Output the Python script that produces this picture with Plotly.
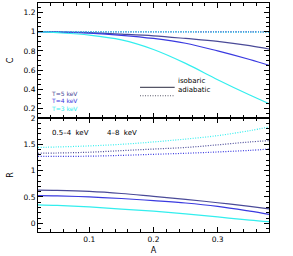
import plotly.graph_objects as go

# Data
A = [0.02, 0.05, 0.10, 0.15, 0.20, 0.25, 0.30, 0.35, 0.38]

C_iso_T5 = [1.0, 0.998, 0.99, 0.975, 0.957, 0.93, 0.90, 0.855, 0.82]
C_iso_T4 = [1.0, 0.997, 0.985, 0.963, 0.93, 0.88, 0.80, 0.71, 0.65]
C_iso_T3 = [1.0, 0.99, 0.965, 0.915, 0.815, 0.67, 0.50, 0.34, 0.25]
C_adi_T5 = [1.0, 1.0, 1.0, 1.0, 1.0, 1.0, 0.999, 0.999, 0.998]
C_adi_T4 = [1.0, 1.0, 1.0, 0.999, 0.999, 0.999, 0.998, 0.998, 0.997]
C_adi_T3 = [1.0, 1.0, 0.999, 0.999, 0.998, 0.998, 0.997, 0.997, 0.996]

R_iso_T5 = [0.63, 0.625, 0.605, 0.565, 0.51, 0.455, 0.39, 0.32, 0.275]
R_iso_T4 = [0.525, 0.52, 0.50, 0.47, 0.43, 0.385, 0.32, 0.23, 0.17]
R_iso_T3 = [0.35, 0.34, 0.31, 0.27, 0.23, 0.18, 0.12, 0.06, 0.03]
R_adi_T5 = [1.33, 1.335, 1.35, 1.38, 1.41, 1.44, 1.49, 1.545, 1.57]
R_adi_T4 = [1.27, 1.27, 1.275, 1.29, 1.31, 1.33, 1.355, 1.385, 1.41]
R_adi_T3 = [1.44, 1.45, 1.47, 1.50, 1.545, 1.60, 1.665, 1.76, 1.83]

temps = ["T=5 keV", "T=4 keV", "T=3 keV"]
colors = ["#4a4a98", "#3a3ae0", "#33eeee"]

fig = go.Figure()

C_iso = [C_iso_T5, C_iso_T4, C_iso_T3]
C_adi = [C_adi_T5, C_adi_T4, C_adi_T3]
R_iso = [R_iso_T5, R_iso_T4, R_iso_T3]
R_adi = [R_adi_T5, R_adi_T4, R_adi_T3]

DOT = "1px,1.5px"
for i in range(3):
    fig.add_trace(go.Scatter(x=A, y=C_adi[i], mode="lines", line=dict(color=colors[i], width=1.2, dash=DOT, shape="spline"),
                             xaxis="x2", yaxis="y2", showlegend=False))
    fig.add_trace(go.Scatter(x=A, y=C_iso[i], mode="lines", line=dict(color=colors[i], width=1.2, shape="spline"),
                             xaxis="x2", yaxis="y2", showlegend=False))
    fig.add_trace(go.Scatter(x=A, y=R_adi[i], mode="lines", line=dict(color=colors[i], width=1.2, dash=DOT, shape="spline"),
                             xaxis="x", yaxis="y", showlegend=False))
    fig.add_trace(go.Scatter(x=A, y=R_iso[i], mode="lines", line=dict(color=colors[i], width=1.2, shape="spline"),
                             xaxis="x", yaxis="y", showlegend=False))

FAM = "DejaVu Sans"
font = dict(family=FAM, size=8, color="black")
tickfont = dict(family=FAM, size=7.5, color="black")

common = dict(showline=True, linecolor="black", linewidth=1, ticks="inside", mirror="allticks",
              tickcolor="black", tickwidth=1, showgrid=False, zeroline=False, tickfont=tickfont,
              automargin=False)

d = 0.4978
fig.update_layout(
    width=293, height=256,
    margin=dict(l=38, r=24, t=3, b=24),
    paper_bgcolor="white", plot_bgcolor="white",
    font=font,
    showlegend=False,
    xaxis=dict(range=[0.02, 0.38], domain=[0, 1], anchor="y", dtick=0.1, tick0=0, ticklen=5,
               minor=dict(dtick=0.02, ticklen=3, ticks="inside", tickcolor="black"),
               title=dict(text="A", font=font, standoff=4), **common),
    xaxis2=dict(range=[0.02, 0.38], domain=[0, 1], anchor="y2", matches="x", dtick=0.1, tick0=0, ticklen=5,
                minor=dict(dtick=0.02, ticklen=3, ticks="inside", tickcolor="black"),
                showticklabels=False, **common),
    yaxis=dict(range=[-0.166, 2.0], domain=[0, d], anchor="x", dtick=0.5, tick0=0, ticklen=5,
               minor=dict(dtick=0.1, ticklen=3, ticks="inside", tickcolor="black"),
               title=dict(text="R", font=font, standoff=8), **common),
    yaxis2=dict(range=[0.1, 1.3], domain=[d, 1], anchor="x2", dtick=0.2, tick0=0, ticklen=5,
                minor=dict(dtick=0.05, ticklen=3, ticks="inside", tickcolor="black"),
                title=dict(text="C", font=font, standoff=8), **common),
)

# Temperature labels
for i, (t, yv) in enumerate(zip(temps, [0.357, 0.28, 0.203])):
    fig.add_annotation(x=0.037, y=yv, xref="x2", yref="y2", text=t, showarrow=False, xanchor="left",
                       yanchor="middle", font=dict(family=FAM, size=6, color=colors[i]))

# Line-style key
fig.add_shape(type="line", x0=0.179, x1=0.233, y0=0.42, y1=0.42, xref="x2", yref="y2",
              line=dict(color="#555566", width=1.2))
fig.add_shape(type="line", x0=0.179, x1=0.233, y0=0.332, y1=0.332, xref="x2", yref="y2",
              line=dict(color="#555566", width=1.2, dash=DOT))
fig.add_annotation(x=0.235, y=0.486, xref="x2", yref="y2", text="isobaric", showarrow=False, xanchor="left",
                   yanchor="middle", font=dict(family=FAM, size=7, color="black"))
fig.add_annotation(x=0.235, y=0.391, xref="x2", yref="y2", text="adiabatic", showarrow=False, xanchor="left",
                   yanchor="middle", font=dict(family=FAM, size=7, color="black"))

# Band labels
fig.add_annotation(x=0.0387, y=1.707, xref="x", yref="y", text="0.5\u20134  keV", showarrow=False, xanchor="left",
                   yanchor="middle", font=dict(family=FAM, size=7, color="black"))
fig.add_annotation(x=0.124, y=1.707, xref="x", yref="y", text="4\u20138  keV", showarrow=False, xanchor="left",
                   yanchor="middle", font=dict(family=FAM, size=7, color="black"))

fig.write_html("out.html", config={"displayModeBar": False},
               post_script="document.body.style.margin='0px';document.body.style.padding='0px';")
